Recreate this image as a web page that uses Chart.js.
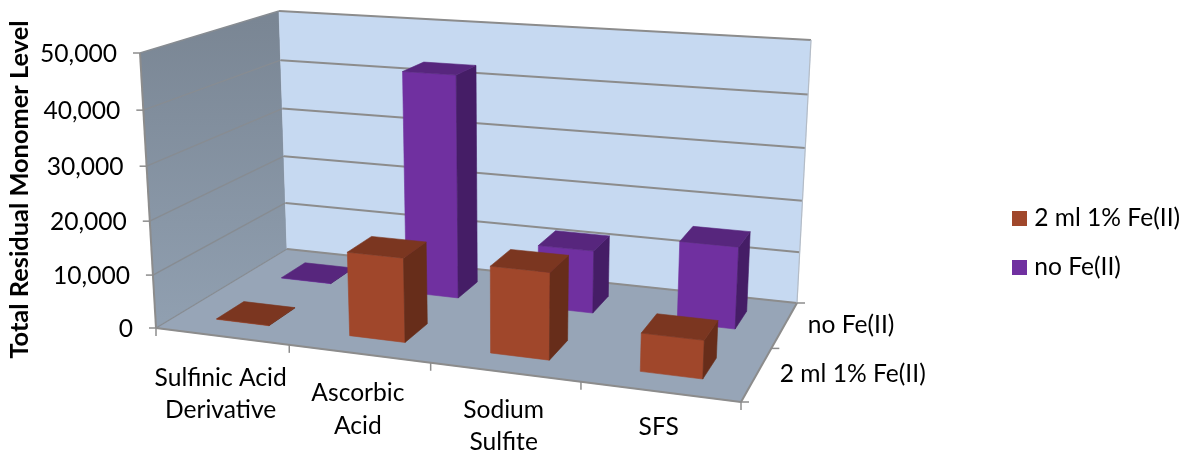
<!DOCTYPE html>
<html>
<head>
<meta charset="utf-8">
<title>Total Residual Monomer Level</title>
<script src="https://cdn.jsdelivr.net/npm/chart.js@4"></script>
<style>
  html, body { margin: 0; padding: 0; background: #fff; }
  canvas { display: block; }
</style>
</head>
<body>
<canvas id="monomerChart" width="1185" height="452"></canvas>
<script>
const categories = [['Sulfinic Acid', 'Derivative'], ['Ascorbic', 'Acid'], ['Sodium', 'Sulfite'], ['SFS']];
const seriesNames = ['2 ml 1% Fe(II)', 'no Fe(II)'];
const withIron = [100, 15500, 15700, 6800];
const noIron = [100, 43000, 12000, 15400];
const seriesColors = ['#a0472b', '#7030a0'];
const topColors = ['#7b3620', '#57267d'];
const sideColors = ['#672d1a', '#451d66'];

// Corners of the box as seen on screen: front-left, front-right, back-right, back-left
const floorQuad = [[156, 328], [741, 402], [797, 303], [287, 249]];
const roofQuad = [[140, 53], [756, 94], [811, 40], [279, 11]];
// perspective along the vertical edges
const heightBend = -0.047;

const labelFont = '24.6px Lato';
const edgeColor = '#8c8c8c';

function squareToQuad(q) {
  const [[x0, y0], [x1, y1], [x2, y2], [x3, y3]] = q;
  const dx1 = x1 - x2, dx2 = x3 - x2, sx = x0 - x1 + x2 - x3;
  const dy1 = y1 - y2, dy2 = y3 - y2, sy = y0 - y1 + y2 - y3;
  const det = dx1 * dy2 - dx2 * dy1;
  const g = (sx * dy2 - dx2 * sy) / det;
  const h = (dx1 * sy - sx * dy1) / det;
  const a = x1 - x0 + g * x1, b = x3 - x0 + h * x3;
  const d = y1 - y0 + g * y1, e = y3 - y0 + h * y3;
  return (u, v) => {
    const w = g * u + h * v + 1;
    return [(a * u + b * v + x0) / w, (d * u + e * v + y0) / w, w];
  };
}

const floorMap = squareToQuad(floorQuad);
const roofMap = squareToQuad(roofQuad);

// u runs along the categories, v into the depth, w up the value axis (all 0..1)
function project(u, v, w) {
  const f = floorMap(u, v), r = roofMap(u, v);
  const t = w * (f[2] + heightBend) / (f[2] + heightBend * w);
  return [f[0] + (r[0] - f[0]) * t, f[1] + (r[1] - f[1]) * t];
}

function fillFace(ctx, pts, color) {
  ctx.beginPath();
  pts.forEach((p, i) => (i ? ctx.lineTo(p[0], p[1]) : ctx.moveTo(p[0], p[1])));
  ctx.closePath();
  ctx.fillStyle = color;
  ctx.strokeStyle = typeof color === 'string' ? color : 'transparent';
  ctx.lineWidth = 0.6;
  ctx.fill();
  ctx.stroke();
}

function strokeLine(ctx, a, b, color, width) {
  ctx.beginPath();
  ctx.moveTo(a[0], a[1]);
  ctx.lineTo(b[0], b[1]);
  ctx.strokeStyle = color;
  ctx.lineWidth = width;
  ctx.stroke();
}

function valueToW(scale, value) {
  return (scale.bottom - scale.getPixelForValue(value)) / (scale.bottom - scale.top);
}

// Legend swatch as a small canvas, so the gap to the text can be tighter than boxWidth allows
function swatch(color) {
  const c = document.createElement('canvas');
  c.width = 15;
  c.height = 15;
  const g = c.getContext('2d');
  g.fillStyle = color;
  g.fillRect(0, 0, 15, 15);
  return c;
}

const boxPlugin = {
  id: 'box3d',
  afterLayout(chart) {
    // legend sits lower than the plot centre
    const legend = chart.legend;
    legend.left = 992.5;
    legend.right = 1185;
    legend.top = 181.8;
    legend.bottom = 452;
  },
  beforeDatasetsDraw(chart) {
    const ctx = chart.ctx, y = chart.scales.y, x = chart.scales.x;
    ctx.save();

    const wallFill = ctx.createLinearGradient(0, 20, 0, 320);
    wallFill.addColorStop(0, '#7a8694');
    wallFill.addColorStop(1, '#909fb0');
    fillFace(ctx, [project(0, 0, 0), project(0, 1, 0), project(0, 1, 1), project(0, 0, 1)], wallFill);
    fillFace(ctx, [project(0, 1, 0), project(1, 1, 0), project(1, 1, 1), project(0, 1, 1)], '#c6d9f1');
    fillFace(ctx, [project(0, 0, 0), project(1, 0, 0), project(1, 1, 0), project(0, 1, 0)], '#97a5b7');

    // gridlines run along the side wall and the back wall
    y.ticks.forEach(t => {
      const w = valueToW(y, t.value);
      strokeLine(ctx, project(0, 0, w), project(0, 1, w), '#878c92', 1.4);
      strokeLine(ctx, project(0, 1, w), project(1, 1, w), edgeColor, 2);
      const p = project(0, 0, w);
      strokeLine(ctx, [p[0] - 7, p[1]], p, edgeColor, 1.5);
      ctx.font = labelFont;
      ctx.fillStyle = '#000';
      ctx.textAlign = 'right';
      ctx.textBaseline = 'middle';
      ctx.fillText(t.label, p[0] - 23, p[1] + 1);
    });

    strokeLine(ctx, project(0, 0, 0), project(0, 0, 1), edgeColor, 2);
    strokeLine(ctx, project(1, 1, 0), project(1, 1, 1), '#b4bcc6', 1.2);

    // front and right floor edges, with their tick marks
    strokeLine(ctx, project(0, 0, 0), project(1, 0, 0), edgeColor, 2);
    strokeLine(ctx, project(1, 0, 0), project(1, 1, 0), edgeColor, 2);
    categories.concat([null]).forEach((c, i) => {
      const p = project(i / categories.length, 0, 0);
      strokeLine(ctx, p, [p[0], p[1] + 8], edgeColor, 1.5);
    });
    seriesNames.concat([null]).forEach((s, i) => {
      const p = project(1, i / seriesNames.length, 0);
      strokeLine(ctx, p, [p[0] + 8, p[1]], edgeColor, 1.5);
    });

    ctx.font = labelFont;
    ctx.fillStyle = '#000';
    ctx.textBaseline = 'middle';
    ctx.textAlign = 'center';
    x.getLabels().forEach((lines, i) => {
      const u = (x.getPixelForValue(i) - x.left) / x.width;
      const p = project(u, 0, 0);
      lines.forEach((line, k) => {
        ctx.fillText(line, p[0] - 1, p[1] + 42.5 - 8 * u + k * 32.5);
      });
    });
    ctx.textAlign = 'left';
    seriesNames.forEach((name, i) => {
      const p = project(1, (i + 0.5) / seriesNames.length, 0);
      ctx.fillText(name, p[0] + 23, p[1] + 0.5);
    });
    ctx.restore();
  },
  beforeDatasetDraw(chart, args) {
    // replaces the flat rectangles with three visible faces of a block
    const ctx = chart.ctx, y = chart.scales.y, area = chart.chartArea;
    const n = chart.data.datasets.length, i = args.index;
    const v0 = (i + 0.5) / n - 0.4 / n / 2, v1 = v0 + 0.4 / n;
    ctx.save();
    args.meta.data.forEach((bar) => {
      const { x, y: top, width } = bar.getProps(['x', 'y', 'width']);
      const u0 = (x - width / 2 - area.left) / area.width;
      const u1 = (x + width / 2 - area.left) / area.width;
      const w = (y.bottom - top) / (y.bottom - y.top);
      fillFace(ctx, [project(u0, v0, 0), project(u1, v0, 0), project(u1, v0, w), project(u0, v0, w)], seriesColors[i]);
      fillFace(ctx, [project(u1, v0, 0), project(u1, v1, 0), project(u1, v1, w), project(u1, v0, w)], sideColors[i]);
      fillFace(ctx, [project(u0, v0, w), project(u1, v0, w), project(u1, v1, w), project(u0, v1, w)], topColors[i]);
    });
    ctx.restore();
    return false;
  }
};

new Chart(document.getElementById('monomerChart'), {
  type: 'bar',
  data: {
    labels: categories,
    datasets: [
      { label: seriesNames[0], data: withIron, backgroundColor: seriesColors[0] },
      { label: seriesNames[1], data: noIron, backgroundColor: seriesColors[1] }
    ]
  },
  options: {
    responsive: false,
    animation: false,
    layout: { padding: { top: 54, bottom: 127, left: 5, right: 0 } },
    datasets: { bar: { grouped: false, barPercentage: 0.4, categoryPercentage: 1 } },
    scales: {
      x: { display: false },
      y: {
        min: 0,
        max: 50000,
        grid: { display: false },
        border: { display: false },
        ticks: { display: false, stepSize: 10000, callback: v => v.toLocaleString('en-US') },
        title: {
          display: true,
          text: 'Total Residual Monomer Level',
          color: '#000',
          font: { family: 'Lato', size: 25.4, weight: 'bold' },
          padding: 0
        }
      }
    },
    plugins: {
      tooltip: { enabled: false },
      legend: {
        position: 'right',
        align: 'start',
        labels: {
          usePointStyle: true,
          pointStyleWidth: 5,
          color: '#000',
          padding: 24.4,
          font: { family: 'Lato', size: 24.6 },
          generateLabels: () => seriesNames.map((name, i) => ({
            text: name,
            fillStyle: seriesColors[i],
            strokeStyle: seriesColors[i],
            lineWidth: 0,
            pointStyle: swatch(seriesColors[i]),
            datasetIndex: i
          }))
        }
      }
    }
  },
  plugins: [boxPlugin]
});
</script>
</body>
</html>
